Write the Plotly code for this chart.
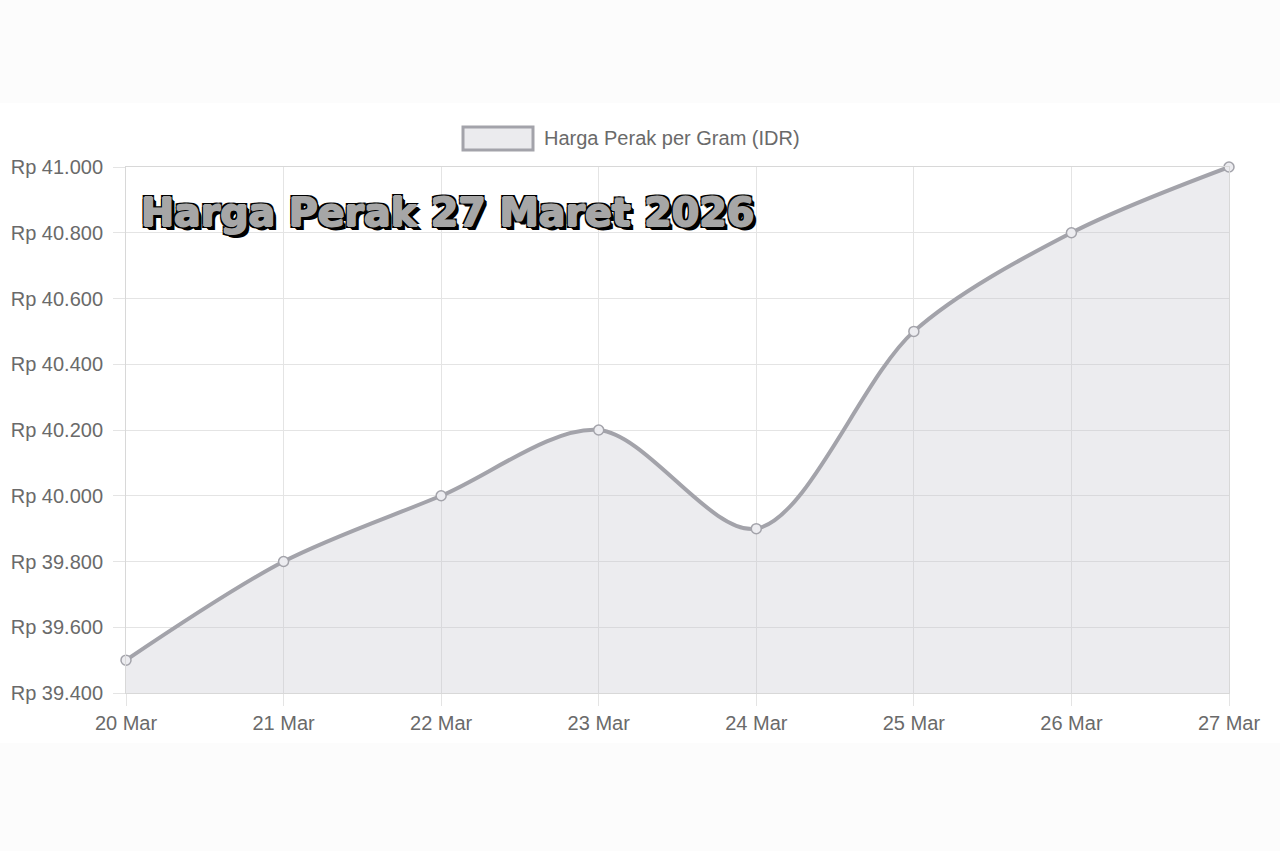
import plotly.graph_objects as go

dates = ["20 Mar", "21 Mar", "22 Mar", "23 Mar", "24 Mar", "25 Mar", "26 Mar", "27 Mar"]
prices = [39500, 39800, 40000, 40200, 39900, 40500, 40800, 41000]
y_ticks = [39400, 39600, 39800, 40000, 40200, 40400, 40600, 40800, 41000]
y_ticktext = ["Rp 39.400", "Rp 39.600", "Rp 39.800", "Rp 40.000", "Rp 40.200",
              "Rp 40.400", "Rp 40.600", "Rp 40.800", "Rp 41.000"]
series_name = "Harga Perak per Gram (IDR)"
title_text = "Harga Perak 27 Maret 2026"

x_idx = list(range(len(dates)))

fig = go.Figure()
fig.add_trace(go.Scatter(
    x=x_idx, y=prices, mode="lines+markers", name=series_name,
    line=dict(color="#a3a3aa", width=4, shape="spline", smoothing=0.9),
    fill="tozeroy", fillcolor="rgba(195,195,205,0.32)",
    marker=dict(symbol="circle", size=10, color="rgba(236,236,240,1)",
                line=dict(color="#a3a3aa", width=1.5)),
    showlegend=False, cliponaxis=False,
))

grid = "#e4e4e4"
tick_font = dict(size=20, color="#6a6a6a", family="Liberation Sans, Arial, sans-serif")
fig.update_layout(
    width=1280, height=851,
    paper_bgcolor="#fcfcfc", plot_bgcolor="rgba(0,0,0,0)",
    margin=dict(l=126, r=51, t=167, b=158),
    font=dict(family="Liberation Sans, Arial, sans-serif", color="#6a6a6a", size=20),
    xaxis=dict(range=[0, 7], tickvals=x_idx, ticktext=dates, showgrid=True,
               gridcolor=grid, ticks="outside", ticklen=12, tickcolor=grid,
               showline=True, linecolor="#d8d8d8", mirror=True, zeroline=False,
               tickfont=tick_font),
    yaxis=dict(range=[39400, 41000], tickvals=y_ticks, ticktext=y_ticktext,
               showgrid=True, gridcolor=grid, ticks="outside", ticklen=12,
               tickcolor=grid, showline=True, linecolor="#d8d8d8", mirror=True,
               zeroline=False, tickfont=tick_font, ticklabelstandoff=6),
    shapes=[
        dict(type="rect", xref="paper", yref="paper", layer="below",
             x0=-0.2, x1=1.1, y0=-(743 - 693) / 526,
             y1=1 + (167 - 103) / 526, fillcolor="#ffffff", line=dict(width=0)),
        dict(type="rect", xref="paper", yref="paper",
             x0=(463 - 126) / 1103, x1=(533 - 126) / 1103,
             y0=1 + (167 - 150) / 526, y1=1 + (167 - 127) / 526,
             fillcolor="#ebebee", line=dict(color="#a3a3aa", width=3)),
    ],
    annotations=[
        dict(text=series_name, xref="paper", yref="paper",
             x=(542 - 126) / 1103, y=1 + (167 - 138) / 526, xanchor="left",
             yanchor="middle", showarrow=False,
             font=dict(size=20, color="#6a6a6a", family="Liberation Sans, Arial, sans-serif")),
        dict(text=title_text, xref="paper", yref="paper",
             x=(139 - 126) / 1103, y=1 - (212 - 167) / 526, xanchor="left",
             yanchor="middle", showarrow=False,
             font=dict(size=39.5, color="#a6a6a6", family="DejaVu Sans", weight=900,
                       shadow="1px 0 0 #a6a6a6, -1px 0 0 #a6a6a6, 0 1px 0 #a6a6a6, 0 -1px 0 #a6a6a6, "
                              "-2px -2px 0 #000, 2px -2px 0 #000, -2px 2px 0 #000, 2px 2px 0 #000, "
                              "3px 3px 0 #000, 4px 4px 0 #000")),
    ],
)

fig.write_html("out.html", config={"displayModeBar": False},
               post_script="document.body.style.margin='0';document.body.style.padding='0';")
